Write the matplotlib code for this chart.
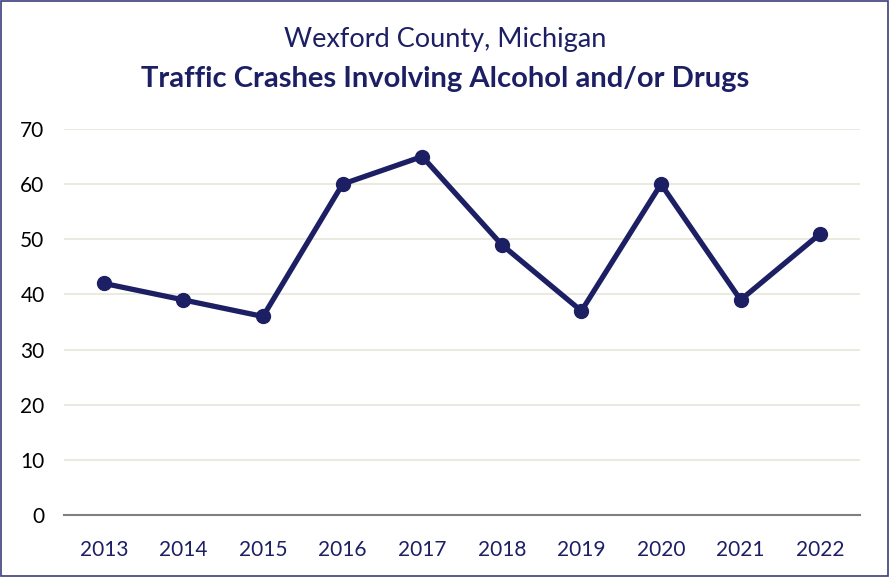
import matplotlib.pyplot as plt
from matplotlib.patches import Rectangle

years = ["2013", "2014", "2015", "2016", "2017", "2018", "2019", "2020", "2021", "2022"]
crashes = [42, 39, 36, 60, 65, 49, 37, 60, 39, 51]
y_ticks = [0, 10, 20, 30, 40, 50, 60, 70]

navy = "#1C1F63"
plt.rcParams["font.family"] = ["Lato", "DejaVu Sans"]

fig = plt.figure(figsize=(8.9, 5.77), dpi=100)
ax = fig.add_axes([0.0719, 0.1075, 0.8944, 0.6690])

x = list(range(len(years)))
ax.plot(x, crashes, color=navy, linewidth=3.8, marker="o", markersize=10,
        solid_capstyle="round", zorder=3)

ax.set_xlim(-0.5, len(years) - 0.5)
ax.set_ylim(0, 70)
ax.set_yticks(y_ticks)
ax.set_xticks(x)
ax.set_xticklabels(years)
ax.tick_params(axis="x", length=0, pad=18, labelsize=15, labelcolor=navy)
ax.tick_params(axis="y", length=0, pad=14, labelsize=15, labelcolor="black")

ax.grid(axis="y", color="#E6E6DA", linewidth=1.2, zorder=0)
for side in ["left", "right", "top"]:
    ax.spines[side].set_visible(False)
ax.spines["bottom"].set_color("#7F7F7F")
ax.spines["bottom"].set_linewidth(1.5)
ax.spines["bottom"].set_zorder(2)

fig.text(0.5, 1 - 40 / 577, "Wexford County, Michigan", ha="center", va="center",
         fontsize=19.5, color=navy)
fig.text(0.5, 1 - 79 / 577, "Traffic Crashes Involving Alcohol and/or Drugs",
         ha="center", va="center", fontsize=21, fontweight="bold", color=navy)

fig.patches.append(Rectangle((0.001, 0.002), 0.997, 0.996, transform=fig.transFigure,
                             fill=False, edgecolor="#3A3F7A", linewidth=1.2))

fig.savefig("out.png", dpi=100)
